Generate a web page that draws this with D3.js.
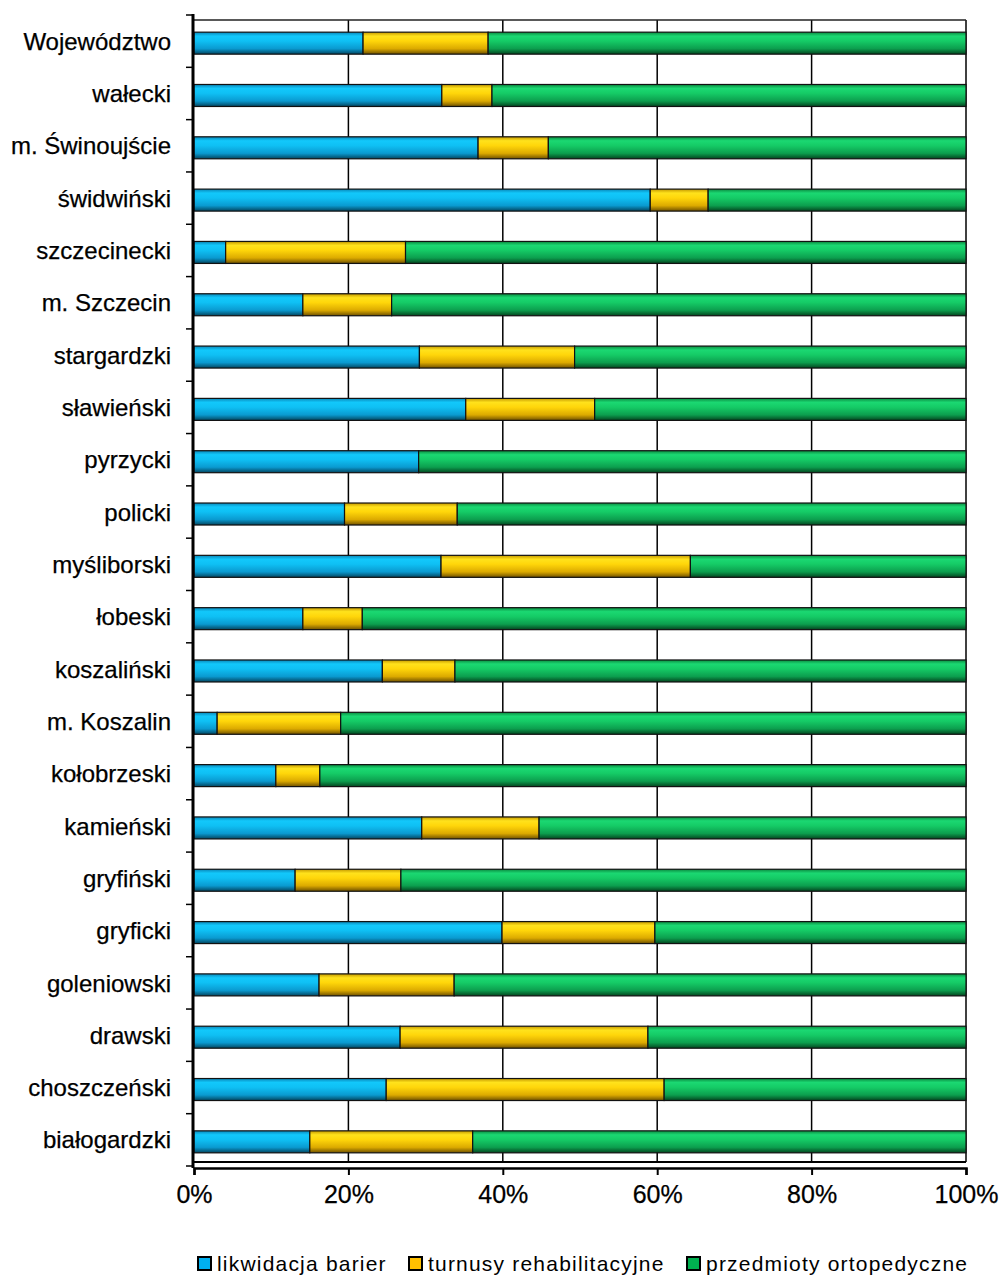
<!DOCTYPE html>
<html>
<head>
<meta charset="utf-8">
<script src="https://cdn.jsdelivr.net/npm/d3@7"></script>
<style>
  html, body { margin: 0; padding: 0; background: #fff; }
  svg { display: block; }
  text { font-family: "Liberation Sans", Arial, sans-serif; fill: #000; }
</style>
</head>
<body>
<div id="chart"></div>
<script>
const categories = ["Województwo","wałecki","m. Świnoujście","świdwiński","szczecinecki","m. Szczecin","stargardzki","sławieński","pyrzycki","policki","myśliborski","łobeski","koszaliński","m. Koszalin","kołobrzeski","kamieński","gryfiński","gryficki","goleniowski","drawski","choszczeński","białogardzki"];
const likwidacjaBarier = [21.9,32.1,36.8,59.1,4.1,14.1,29.2,35.2,29.1,19.5,32.0,14.1,24.4,3.0,10.6,29.5,13.1,39.9,16.2,26.7,24.9,15.0];
const turnusyRehabilitacyjne = [16.2,6.5,9.1,7.5,23.3,11.5,20.1,16.7,0,14.6,32.3,7.7,9.4,16.0,5.7,15.2,13.7,19.8,17.5,32.1,36.0,21.1];
const przedmiotyOrtopedyczne = [61.9,61.4,54.1,33.4,72.6,74.4,50.7,48.1,70.9,65.9,35.7,78.2,66.2,81.0,83.7,55.3,73.2,40.3,66.3,41.2,39.1,63.9];
const seriesNames = ["likwidacja barier","turnusy rehabilitacyjne","przedmioty ortopedyczne"];
const tickValues = [0,20,40,60,80,100];

const W = 1000, H = 1275;
const svg = d3.select("#chart").append("svg").attr("width", W).attr("height", H);

const x = d3.scaleLinear().domain([0,100]).range([194,966]);
const y = d3.scaleBand().domain(categories).range([15,1166]);
const barH = 22;

// gradients
const defs = svg.append("defs");
const grads = [
  {id:"gBlue",  stops:[["0%","#0a86b8"],["18%","#12c8fb"],["40%","#0fc0f4"],["75%","#0a9ad0"],["100%","#03455f"]], swatch:"#00b0f0"},
  {id:"gYellow",stops:[["0%","#c49800"],["18%","#ffe21c"],["40%","#ffd60a"],["75%","#dcaa00"],["100%","#6e5000"]], swatch:"#ffc000"},
  {id:"gGreen", stops:[["0%","#0b8a40"],["18%","#1bd872"],["40%","#15cb66"],["75%","#0c9e4e"],["100%","#03451f"]], swatch:"#00b050"}
];
grads.forEach(g => {
  const lg = defs.append("linearGradient").attr("id", g.id).attr("x1",0).attr("y1",0).attr("x2",0).attr("y2",1);
  g.stops.forEach(s => lg.append("stop").attr("offset", s[0]).attr("stop-color", s[1]));
});

// gridlines
svg.append("g").selectAll("line").data(tickValues.slice(1)).join("line")
  .attr("x1", d => x(d)).attr("x2", d => x(d))
  .attr("y1", 20).attr("y2", 1162)
  .attr("stroke", "#000").attr("stroke-width", 1.5);

// top line
svg.append("line").attr("x1", x(0)).attr("x2", x(100)).attr("y1", 20).attr("y2", 20)
  .attr("stroke", "#222").attr("stroke-width", 1.5);
// floor line
svg.append("line").attr("x1", x(0)).attr("x2", x(100)).attr("y1", 1162).attr("y2", 1162)
  .attr("stroke", "#000").attr("stroke-width", 2);

// stacked bars
const stackData = categories.map((c,i) => ({cat:c, a:likwidacjaBarier[i], b:turnusyRehabilitacyjne[i], c:przedmiotyOrtopedyczne[i]}));
const stack = d3.stack().keys(["a","b","c"]).offset(d3.stackOffsetExpand);
const layers = stack(stackData);
const gBars = svg.append("g");
layers.forEach((layer, li) => {
  gBars.append("g").selectAll("rect").data(layer.filter(d => d[1]-d[0] > 0)).join("rect")
    .attr("x", d => x(d[0]*100))
    .attr("width", d => x(d[1]*100) - x(d[0]*100))
    .attr("y", d => y(d.data.cat) + y.bandwidth()/2 - barH/2 + 2)
    .attr("height", barH)
    .attr("fill", `url(#${grads[li].id})`)
    .attr("stroke", "#111").attr("stroke-width", 1.2);
});

// left axis line and ticks
svg.append("line").attr("x1", 193).attr("x2", 193).attr("y1", 14).attr("y2", 1168)
  .attr("stroke", "#000").attr("stroke-width", 3);
const bounds = d3.range(categories.length + 1).map(i => 15 + i * y.step());
svg.append("g").selectAll("line").data(bounds).join("line")
  .attr("x1", 186).attr("x2", 193).attr("y1", d => d).attr("y2", d => d)
  .attr("stroke", "#000").attr("stroke-width", 1.5);

// category labels via axisLeft
const yAxis = svg.append("g").attr("transform", "translate(171,0)")
  .call(d3.axisLeft(y).tickSize(0).tickPadding(0));
yAxis.select(".domain").remove();
yAxis.selectAll("text").attr("font-size", 24).attr("font-family", "Liberation Sans, Arial, sans-serif")
  .attr("fill", "#000").attr("stroke", "#000").attr("stroke-width", 0.25).attr("dy", "0.36em");

// bottom axis
const xAxis = svg.append("g").attr("transform", "translate(0,1168)")
  .call(d3.axisBottom(x).tickValues(tickValues).tickFormat(d => d + "%").tickSize(7).tickPadding(10));
xAxis.select(".domain").attr("stroke", "#000").attr("stroke-width", 2.5);
xAxis.selectAll(".tick line").attr("stroke", "#000").attr("stroke-width", 2);
xAxis.selectAll("text").attr("font-size", 25).attr("font-family", "Liberation Sans, Arial, sans-serif")
  .attr("fill", "#000").attr("stroke", "#000").attr("stroke-width", 0.25);

// legend
const legendX = [198, 409, 687];
const legend = svg.append("g");
seriesNames.forEach((name, i) => {
  legend.append("rect").attr("x", legendX[i]).attr("y", 1257).attr("width", 13).attr("height", 13)
    .attr("fill", grads[i].swatch).attr("stroke", "#000").attr("stroke-width", 2);
  legend.append("text").attr("x", legendX[i] + 19).attr("y", 1271)
    .attr("font-size", 21).attr("letter-spacing", "1.2px").attr("fill", "#111").text(name);
});
</script>
</body>
</html>
